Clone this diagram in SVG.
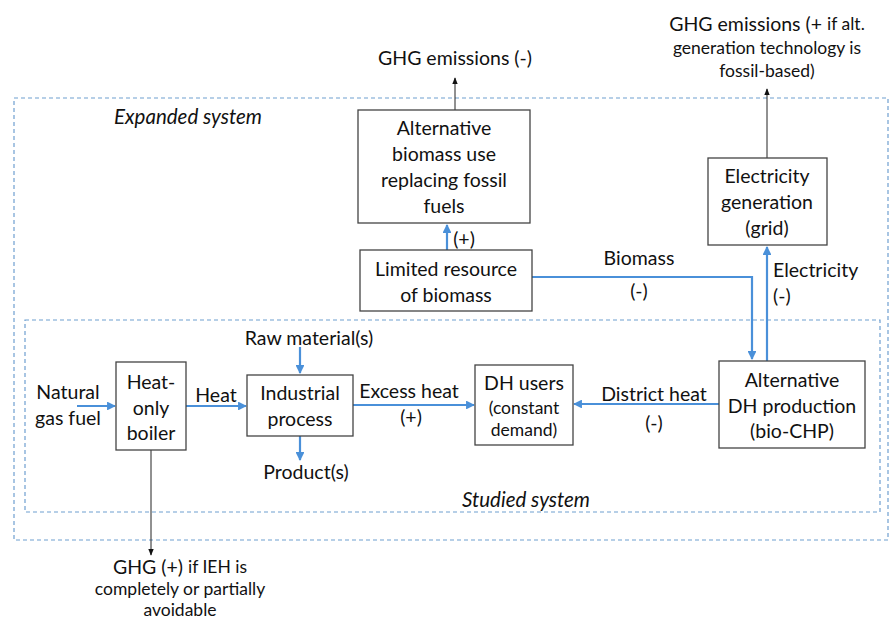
<svg xmlns="http://www.w3.org/2000/svg" width="890" height="620" viewBox="0 0 890 620">
<defs>
<style>
text{font-family:"Lato","Open Sans","Liberation Sans",sans-serif;font-size:19.5px;fill:#111;text-anchor:middle;dominant-baseline:central}
.sm{font-size:17.5px}
.it{font-style:italic;font-size:20.5px}
.box{fill:#fff;stroke:#444;stroke-width:1.3}
.sys{fill:none;stroke:#6f9fd0;stroke-width:1.2;stroke-dasharray:4 3}
.bl{fill:none;stroke:#4a90d9;stroke-width:2.2}
.bk{fill:none;stroke:#222;stroke-width:1}
</style>
<marker id="ab" viewBox="0 0 10 10" refX="9" refY="5" markerWidth="4" markerHeight="4" orient="auto"><path d="M0,0L10,5L0,10z" fill="#4a90d9"/></marker>
<marker id="ak" viewBox="0 0 10 10" refX="9" refY="5" markerWidth="7" markerHeight="7" orient="auto"><path d="M0,1L10,5L0,9z" fill="#111"/></marker>
</defs>
<rect width="890" height="620" fill="#fff"/>
<g id="systems">
<rect class="sys" x="14" y="98" width="874" height="442"/>
<rect class="sys" x="25" y="320" width="855" height="192"/>
<text class="it" x="188" y="116">Expanded system</text>
<text class="it" x="526" y="499">Studied system</text>
</g>
<g id="connectors">
<path class="bk" d="M455,110V78" marker-end="url(#ak)"/>
<path class="bk" d="M767,158V89" marker-end="url(#ak)"/>
<path class="bk" d="M151,450V555" marker-end="url(#ak)"/>
<path class="bl" d="M447,250V225" marker-end="url(#ab)"/>
<path class="bl" d="M532,277H752V359" marker-end="url(#ab)"/>
<path class="bl" d="M767,361V247" marker-end="url(#ab)"/>
<path class="bl" d="M77,406H115" marker-end="url(#ab)"/>
<path class="bl" d="M186,406H246" marker-end="url(#ab)"/>
<path class="bl" d="M300,347V373" marker-end="url(#ab)"/>
<path class="bl" d="M300,436V460" marker-end="url(#ab)"/>
<path class="bl" d="M353,405H474" marker-end="url(#ab)"/>
<path class="bl" d="M719,404H574" marker-end="url(#ab)"/>
<text x="464" y="238">(+)</text>
<text x="639" y="257">Biomass</text>
<text x="639" y="290">(-)</text>
<text x="773" y="269" style="text-anchor:start">Electricity</text>
<text x="773" y="295" style="text-anchor:start">(-)</text>
<text x="216" y="394">Heat</text>
<text x="409" y="390">Excess heat</text>
<text x="411" y="416">(+)</text>
<text x="654" y="393">District heat</text>
<text x="654" y="422">(-)</text>
<text x="309" y="337">Raw material(s)</text>
<text x="306" y="471">Product(s)</text>
<text x="68" y="391">Natural</text>
<text x="68" y="417">gas fuel</text>
</g>
<g id="ghg-alt">
<text x="455" y="57">GHG emissions (-)</text>
</g>
<g id="ghg-elec">
<text x="767" y="23">GHG emissions (+ <tspan class="sm">if alt.</tspan></text>
<text class="sm" x="767" y="47">generation technology is</text>
<text class="sm" x="767" y="70">fossil-based)</text>
</g>
<g id="ghg-boiler">
<text x="180" y="566">GHG (+) <tspan class="sm">if IEH is</tspan></text>
<text class="sm" x="180" y="588">completely or partially</text>
<text class="sm" x="180" y="609">avoidable</text>
</g>
<g id="alt-biomass">
<rect class="box" x="358" y="110" width="172" height="113"/>
<text x="444" y="127">Alternative</text>
<text x="444" y="153">biomass use</text>
<text x="444" y="179">replacing fossil</text>
<text x="444" y="205">fuels</text>
</g>
<g id="limited">
<rect class="box" x="360" y="250" width="172" height="61"/>
<text x="446" y="268">Limited resource</text>
<text x="446" y="294">of biomass</text>
</g>
<g id="elec">
<rect class="box" x="708" y="158" width="119" height="87"/>
<text x="767" y="175">Electricity</text>
<text x="767" y="201">generation</text>
<text x="767" y="227">(grid)</text>
</g>
<g id="boiler">
<rect class="box" x="116" y="362" width="70" height="88"/>
<text x="151" y="381">Heat-</text>
<text x="151" y="407">only</text>
<text x="151" y="432">boiler</text>
</g>
<g id="industrial">
<rect class="box" x="247" y="375" width="106" height="61"/>
<text x="300" y="392">Industrial</text>
<text x="300" y="418">process</text>
</g>
<g id="dh-users">
<rect class="box" x="475" y="365" width="98" height="80"/>
<text x="524" y="382">DH users</text>
<text class="sm" x="524" y="407">(constant</text>
<text class="sm" x="524" y="429">demand)</text>
</g>
<g id="alt-dh">
<rect class="box" x="719" y="361" width="146" height="87"/>
<text x="792" y="379">Alternative</text>
<text x="792" y="405">DH production</text>
<text x="792" y="430">(bio-CHP)</text>
</g>
</svg>
